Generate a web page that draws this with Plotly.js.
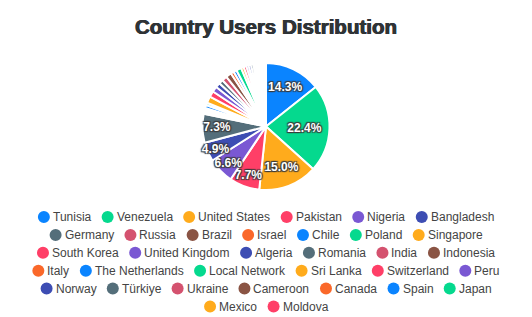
<!DOCTYPE html>
<html><head><meta charset="utf-8">
<script src="https://cdn.plot.ly/plotly-3.0.1.min.js"></script>
<style>html,body{margin:0;padding:0;background:#fff}</style>
</head><body><div id="chart" style="width:532px;height:317px"></div>
<script>
// ---- data ----
const countries = ["Tunisia","Venezuela","United States","Pakistan","Nigeria","Bangladesh",
  "Germany","Russia","Brazil","Israel","Chile","Poland","Singapore",
  "South Korea","United Kingdom","Algeria","Romania","India","Indonesia",
  "Italy","The Netherlands","Local Network","Sri Lanka","Switzerland","Peru",
  "Norway","Türkiye","Ukraine","Cameroon","Canada","Spain","Japan",
  "Mexico","Moldova"];
const shares = [14.3,22.4,15.0,7.7,6.6,4.9,
  7.3,0.5,0.5,0.5,0.8,0.6,1.7,
  1.5,1.4,1.2,1.1,1.3,1.4,
  0.8,0.8,1.3,0.7,0.7,0.6,
  0.6,0.6,0.5,0.5,0.5,0.5,0.4,
  0.4,0.4];
const palette = ["#0a84ff","#05d98e","#ffab1c","#ff3f67","#7a58d3","#3d4db3","#546e7a","#d4526f","#8a5444","#fa682a"];
const legendRowSizes = [6,7,6,6,7,2];
const titleText = "Country Users Distribution";

// ---- derived ----
const total = shares.reduce((a,b)=>a+b,0);
const colors = countries.map((_,i)=>palette[i%palette.length]);
const labelText = shares.map(v => (v/total >= 0.04) ? (v/total*100).toFixed(1)+'%' : '');
const textPos = labelText.map(t => t ? 'inside' : 'none');

const W = 532, H = 317;
const pie = {
  type:'pie', labels:countries, values:shares, sort:false, direction:'clockwise', rotation:0,
  marker:{colors:colors, line:{color:'#ffffff', width:2}},
  text:labelText, textinfo:'text', textposition:textPos, insidetextorientation:'horizontal',
  textfont:{family:'Liberation Sans, Arial, sans-serif', size:12, color:'#ffffff', weight:'bold',
    shadow:'1px 1px 1px #3a3a3a, -1px -1px 1px #3a3a3a, 1px -1px 1px #3a3a3a, -1px 1px 1px #3a3a3a'},
  hoverinfo:'none', showlegend:false,
  domain:{x:[0,1], y:[1-190/H, 1-63/H]}
};

// legend built as text + circles, laid out by measured text width
const cv = document.createElement('canvas').getContext('2d');
cv.font = '12px "Liberation Sans"';
const annotations = [], shapes = [];
let idx = 0;
const rowY0 = 217, rowStep = 17.9, mark = 12, markToText = 15, itemGap = 10.5;
legendRowSizes.forEach((n, r) => {
  const items = countries.slice(idx, idx+n).map((c,k)=>({name:c, color:colors[idx+k], w:cv.measureText(c).width}));
  idx += n;
  const rowW = items.reduce((s,it)=>s+markToText+it.w,0) + itemGap*(n-1);
  let x = W/2 - rowW/2;
  const y = rowY0 + r*rowStep;
  items.forEach(it => {
    shapes.push({type:'circle', xref:'paper', yref:'paper', x0:x/W, x1:(x+mark)/W,
      y0:1-(y+mark/2)/H, y1:1-(y-mark/2)/H, fillcolor:it.color, line:{width:0}});
    annotations.push({xref:'paper', yref:'paper', x:(x+markToText)/W, y:1-y/H, xanchor:'left', yanchor:'middle',
      text:it.name, showarrow:false, borderpad:0, borderwidth:0,
      font:{family:'Liberation Sans, Arial, sans-serif', size:12, color:'#444'}});
    x += markToText + it.w + itemGap;
  });
});

const layout = {
  width:W, height:H, margin:{l:0,r:0,t:0,b:0},
  paper_bgcolor:'#ffffff', plot_bgcolor:'#ffffff',
  title:{text:titleText, x:0.5, xanchor:'center', xref:'container', y:1-27/H, yanchor:'middle', yref:'container',
    font:{family:'Liberation Sans, Arial, sans-serif', size:20.5, color:'#2f3336', weight:'bold',
      shadow:'0.5px 0 0 #2f3336, -0.5px 0 0 #2f3336'}},
  uniformtext:{minsize:12, mode:'show'},
  annotations:annotations, shapes:shapes, showlegend:false
};
Plotly.newPlot('chart', [pie], layout, {displayModeBar:false, staticPlot:true});
</script></body></html>
